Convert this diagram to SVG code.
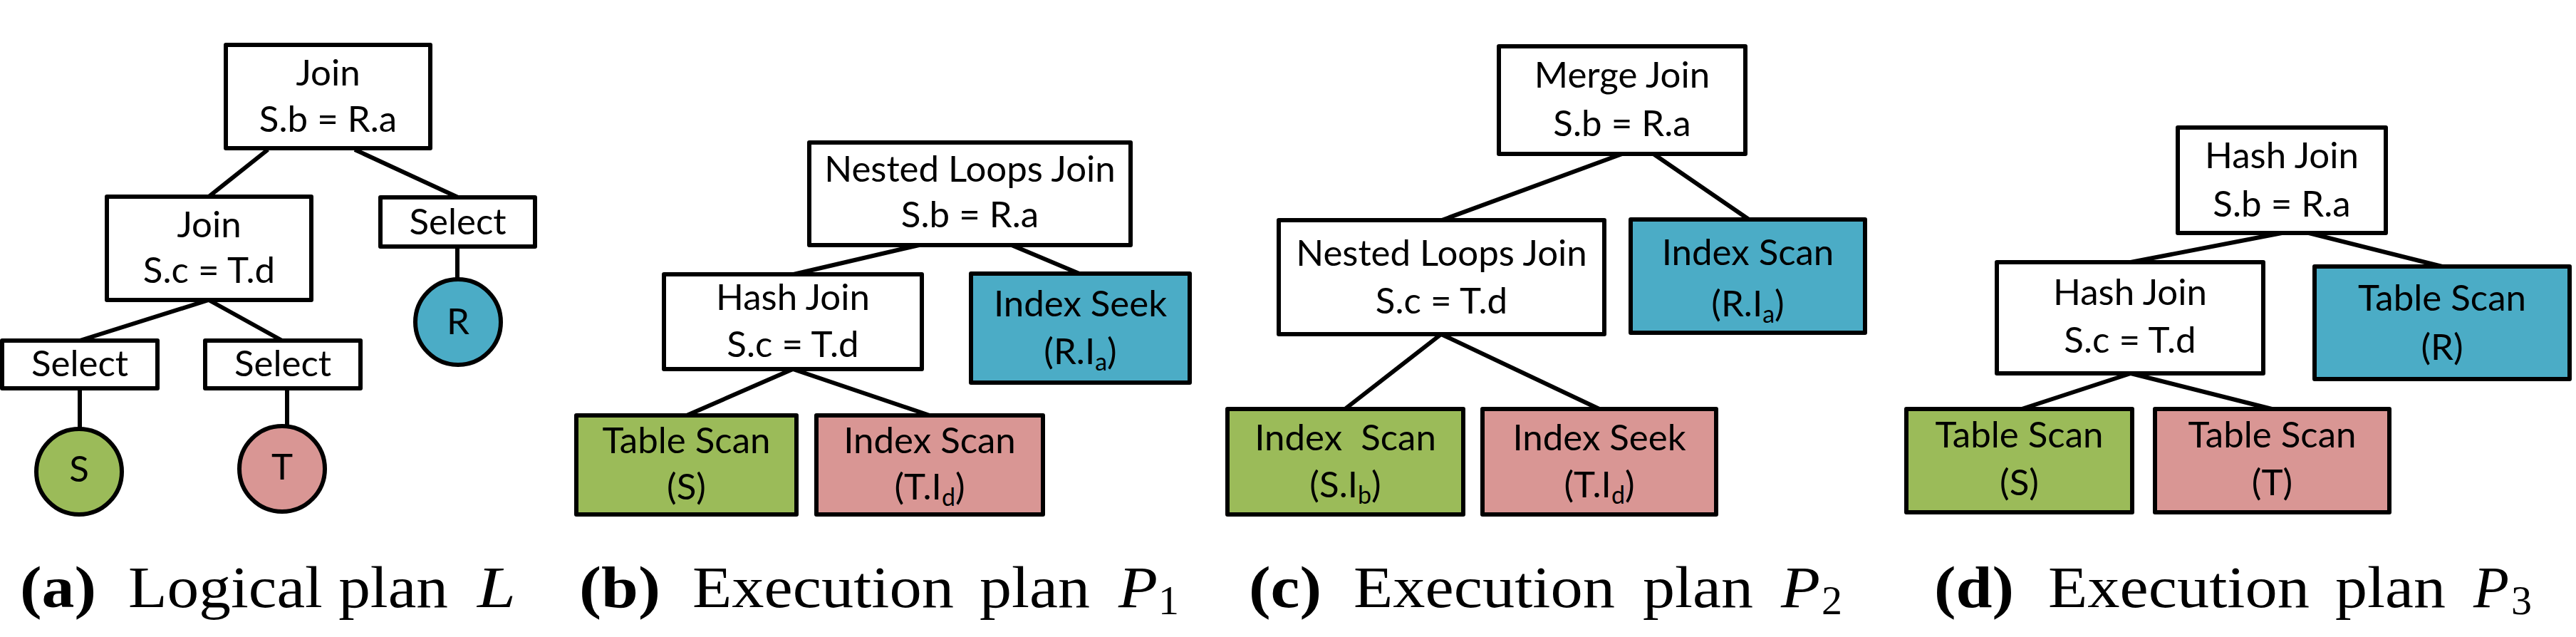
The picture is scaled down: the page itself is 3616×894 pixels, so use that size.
<svg xmlns="http://www.w3.org/2000/svg" width="3616" height="894" viewBox="0 0 3616 894">
<style>
.box{stroke:#000;stroke-width:6;stroke-linejoin:round}
.w{fill:#fff}.g{fill:#9BBB59}.p{fill:#D99694}.b{fill:#4BACC6}
.t{font-family:Lato,'Liberation Sans',sans-serif;font-size:51px;text-anchor:middle;fill:#000}
.sub{font-size:34px}
.edge{stroke:#000;stroke-width:6;fill:none}
.cap{font-family:'Liberation Serif',serif;font-size:82px;fill:#000}
.bf{font-weight:bold}.it{font-style:italic}
.sc{font-size:58px}
</style>
<rect width="3616" height="894" fill="#fff"/>
<g id="connectors">
<line class="edge" x1="376" y1="210" x2="293" y2="276"/>
<line class="edge" x1="498" y1="210" x2="643" y2="277"/>
<line class="edge" x1="293" y1="421" x2="112" y2="478"/>
<line class="edge" x1="293" y1="421" x2="396" y2="478"/>
<line class="edge" x1="112" y1="545" x2="112" y2="602"/>
<line class="edge" x1="403" y1="545" x2="403" y2="598"/>
<line class="edge" x1="642" y1="346" x2="642" y2="392"/>
<line class="edge" x1="1290" y1="344" x2="1114" y2="385"/>
<line class="edge" x1="1420" y1="344" x2="1515" y2="384"/>
<line class="edge" x1="1113" y1="518" x2="964" y2="583"/>
<line class="edge" x1="1113" y1="518" x2="1305" y2="583"/>
<line class="edge" x1="2277" y1="216" x2="2024" y2="309"/>
<line class="edge" x1="2321" y1="216" x2="2455" y2="308"/>
<line class="edge" x1="2023" y1="469" x2="1888" y2="574"/>
<line class="edge" x1="2023" y1="469" x2="2245" y2="574"/>
<line class="edge" x1="3203" y1="327" x2="2991" y2="368"/>
<line class="edge" x1="3241" y1="327" x2="3428" y2="374"/>
<line class="edge" x1="2991" y1="524" x2="2838" y2="574"/>
<line class="edge" x1="2991" y1="524" x2="3189" y2="574"/>
</g>
<g id="a-join-top"><rect class="box w" x="317" y="63" width="287" height="145"/><text class="t" x="460.5" y="120">Join</text><text class="t" x="460.5" y="185">S.b = R.a</text></g>
<g id="a-join-mid"><rect class="box w" x="150" y="276" width="287" height="145"/><text class="t" x="293.5" y="333">Join</text><text class="t" x="293.5" y="397">S.c = T.d</text></g>
<g id="a-select-r"><rect class="box w" x="534" y="277" width="217" height="69"/><text class="t" x="642.5" y="329">Select</text></g>
<g id="a-select-s"><rect class="box w" x="3" y="478" width="218" height="67"/><text class="t" x="112" y="528">Select</text></g>
<g id="a-select-t"><rect class="box w" x="288" y="478" width="218" height="67"/><text class="t" x="397" y="528">Select</text></g>
<g id="a-s"><circle class="box g" cx="111" cy="662" r="60"/><text class="t" x="111" y="676">S</text></g>
<g id="a-t"><circle class="box p" cx="396" cy="658" r="60"/><text class="t" x="396" y="673">T</text></g>
<g id="a-r"><circle class="box b" cx="643" cy="452" r="60"/><text class="t" x="643" y="469">R</text></g>
<g id="b-nlj"><rect class="box w" x="1136" y="200" width="451" height="144"/><text class="t" x="1361.5" y="255">Nested Loops Join</text><text class="t" x="1361.5" y="319">S.b = R.a</text></g>
<g id="b-hash"><rect class="box w" x="932" y="385" width="362" height="133"/><text class="t" x="1113" y="435">Hash Join</text><text class="t" x="1113" y="501">S.c = T.d</text></g>
<g id="b-seek"><rect class="box b" x="1363" y="384" width="307" height="153"/><text class="t" x="1516.5" y="444">Index Seek</text><text class="t" x="1516.5" y="511">(R.I<tspan class="sub" dy="9">a</tspan><tspan dy="-9">)</tspan></text></g>
<g id="b-tscan"><rect class="box g" x="809" y="583" width="309" height="139"/><text class="t" x="963.5" y="636">Table Scan</text><text class="t" x="963.5" y="701">(S)</text></g>
<g id="b-iscan"><rect class="box p" x="1146" y="583" width="318" height="139"/><text class="t" x="1305" y="636">Index Scan</text><text class="t" x="1305" y="701">(T.I<tspan class="sub" dy="9">d</tspan><tspan dy="-9">)</tspan></text></g>
<g id="c-merge"><rect class="box w" x="2104" y="65" width="346" height="151"/><text class="t" x="2277" y="123">Merge Join</text><text class="t" x="2277" y="191">S.b = R.a</text></g>
<g id="c-nlj"><rect class="box w" x="1795" y="309" width="457" height="160"/><text class="t" x="2023.5" y="373">Nested Loops Join</text><text class="t" x="2023.5" y="440">S.c = T.d</text></g>
<g id="c-iscan-r"><rect class="box b" x="2289" y="308" width="329" height="159"/><text class="t" x="2453.5" y="372">Index Scan</text><text class="t" x="2453.5" y="444">(R.I<tspan class="sub" dy="9">a</tspan><tspan dy="-9">)</tspan></text></g>
<g id="c-iscan-s"><rect class="box g" x="1723" y="574" width="331" height="148"/><text class="t" x="1888.5" y="632">Index&#160; Scan</text><text class="t" x="1888.5" y="698">(S.I<tspan class="sub" dy="9">b</tspan><tspan dy="-9">)</tspan></text></g>
<g id="c-seek-t"><rect class="box p" x="2081" y="574" width="328" height="148"/><text class="t" x="2245" y="632">Index Seek</text><text class="t" x="2245" y="698">(T.I<tspan class="sub" dy="9">d</tspan><tspan dy="-9">)</tspan></text></g>
<g id="d-hash-top"><rect class="box w" x="3057" y="179" width="292" height="148"/><text class="t" x="3203" y="236">Hash Join</text><text class="t" x="3203" y="304">S.b = R.a</text></g>
<g id="d-hash-mid"><rect class="box w" x="2803" y="368" width="374" height="156"/><text class="t" x="2990" y="428">Hash Join</text><text class="t" x="2990" y="495">S.c = T.d</text></g>
<g id="d-tscan-r"><rect class="box b" x="3249" y="374" width="358" height="158"/><text class="t" x="3428" y="436">Table Scan</text><text class="t" x="3428" y="505">(R)</text></g>
<g id="d-tscan-s"><rect class="box g" x="2676" y="574" width="317" height="145"/><text class="t" x="2834.5" y="628">Table Scan</text><text class="t" x="2834.5" y="695">(S)</text></g>
<g id="d-tscan-t"><rect class="box p" x="3025" y="574" width="329" height="145"/><text class="t" x="3189.5" y="628">Table Scan</text><text class="t" x="3189.5" y="695">(T)</text></g>
<g id="captions">
<text class="cap bf" x="28" y="852" textLength="107" lengthAdjust="spacingAndGlyphs">(a)</text>
<text class="cap" x="180" y="852" textLength="449" lengthAdjust="spacingAndGlyphs">Logical plan</text>
<text class="cap it" x="670" y="852" textLength="54" lengthAdjust="spacingAndGlyphs">L</text>

<text class="cap bf" x="813" y="852" textLength="114" lengthAdjust="spacingAndGlyphs">(b)</text>
<text class="cap" x="972" y="852" textLength="367" lengthAdjust="spacingAndGlyphs">Execution</text>
<text class="cap" x="1375" y="852" textLength="155" lengthAdjust="spacingAndGlyphs">plan</text>
<text class="cap it" x="1570" y="852" textLength="55" lengthAdjust="spacingAndGlyphs">P</text><text class="cap sc" x="1626" y="862">1</text>

<text class="cap bf" x="1753" y="852" textLength="102" lengthAdjust="spacingAndGlyphs">(c)</text>
<text class="cap" x="1900" y="852" textLength="367" lengthAdjust="spacingAndGlyphs">Execution</text>
<text class="cap" x="2306" y="852" textLength="155" lengthAdjust="spacingAndGlyphs">plan</text>
<text class="cap it" x="2500" y="852" textLength="55" lengthAdjust="spacingAndGlyphs">P</text><text class="cap sc" x="2557" y="862">2</text>

<text class="cap bf" x="2715" y="852" textLength="112" lengthAdjust="spacingAndGlyphs">(d)</text>
<text class="cap" x="2875" y="852" textLength="367" lengthAdjust="spacingAndGlyphs">Execution</text>
<text class="cap" x="3278" y="852" textLength="155" lengthAdjust="spacingAndGlyphs">plan</text>
<text class="cap it" x="3472" y="852" textLength="50" lengthAdjust="spacingAndGlyphs">P</text><text class="cap sc" x="3525" y="862">3</text>
</g>
</svg>
